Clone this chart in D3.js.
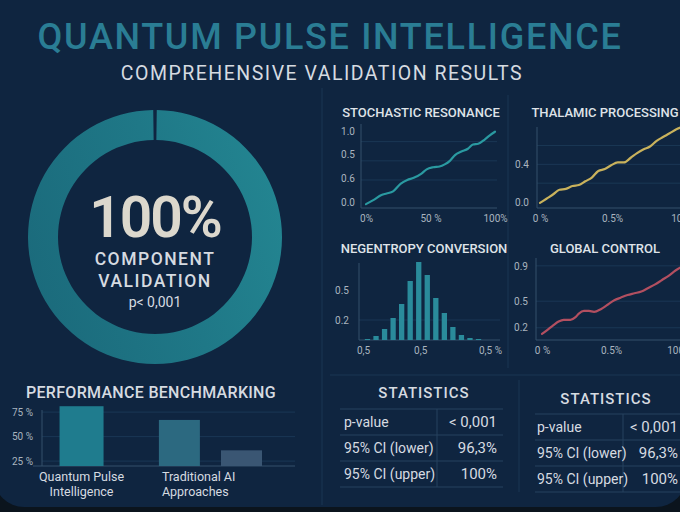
<!DOCTYPE html>
<html>
<head>
<meta charset="utf-8">
<script src="https://cdn.jsdelivr.net/npm/d3@7"></script>
<style>
  html, body { margin: 0; padding: 0; background: #0b141d; }
  svg { display: block; font-family: Roboto, "DejaVu Sans", sans-serif; }
</style>
</head>
<body>
<script>
// ---- data ----
var validationShare = [100];

var stochasticX = [0, 6, 12, 16, 21, 27, 32, 37, 43, 47, 52, 57, 61, 65, 69, 74, 79, 83, 87, 92, 96, 100];
var stochasticY = [-0.03, 0.03, 0.10, 0.12, 0.15, 0.26, 0.31, 0.34, 0.40, 0.46, 0.49, 0.50, 0.53, 0.58, 0.66, 0.71, 0.75, 0.81, 0.82, 0.88, 0.94, 0.99];
var stochasticYTicks = [0, 0.33, 0.67, 1];
var stochasticYLabels = ["0.0", "0.6", "0.5", "1.0"];
var stochasticXTicks = [0, 50, 100];
var stochasticXLabels = ["0%", "50 %", "100%"];

var thalamicX = [0, 0.045, 0.09, 0.135, 0.18, 0.225, 0.27, 0.315, 0.36, 0.405, 0.45, 0.494, 0.54, 0.584, 0.63, 0.674, 0.72, 0.764, 0.81, 0.854, 0.9, 0.944, 0.99];
var thalamicY = [-0.01, 0.035, 0.08, 0.13, 0.14, 0.17, 0.18, 0.22, 0.26, 0.33, 0.35, 0.39, 0.42, 0.42, 0.47, 0.52, 0.56, 0.59, 0.65, 0.69, 0.73, 0.77, 0.80];
var thalamicYTicks = [0, 0.4];
var thalamicYLabels = ["0.0", "0.4"];
var thalamicXTicks = [0, 0.5, 1];
var thalamicXLabels = ["0 %", "0.5%", "100 %"];

var negentropyBins = ["b1", "b2", "b3", "b4", "b5", "b6", "b7", "b8", "b9", "b10", "b11", "b12", "b13", "b14"];
var negentropyValues = [0.01, 0.04, 0.11, 0.22, 0.36, 0.59, 0.78, 0.65, 0.42, 0.27, 0.13, 0.05, 0.02, 0.01];
var negentropyYTicks = [0.2, 0.5];
var negentropyYLabels = ["0.2", "0.5"];
var negentropyXTicks = [0, 0.45, 1];
var negentropyXLabels = ["0,5", "0,5", "0,5 %"];

var globalX = [0, 0.035, 0.083, 0.12, 0.157, 0.206, 0.243, 0.267, 0.304, 0.34, 0.377, 0.426, 0.475, 0.524, 0.57, 0.62, 0.67, 0.72, 0.77, 0.82, 0.87, 0.92, 0.97, 1.015];
var globalY = [0.13, 0.17, 0.23, 0.27, 0.29, 0.29, 0.32, 0.36, 0.39, 0.39, 0.38, 0.41, 0.46, 0.51, 0.54, 0.57, 0.59, 0.61, 0.65, 0.69, 0.74, 0.79, 0.85, 0.89];
var globalYTicks = [0.2, 0.5, 0.9];
var globalYLabels = ["0.2", "0.5", "0.9"];
var globalXTicks = [0, 0.5, 1];
var globalXLabels = ["0 %", "0.5%", "100 %"];

var benchGroups = ["Quantum Pulse Intelligence", "Traditional AI Approaches"];
var qpiScores = [81];
var traditionalScores = [67, 36];
var benchTicks = [25, 50, 75];

var statLabels = ["p-value", "95% CI (lower)", "95% CI (upper)"];
var statValues = ["< 0,001", "96,3%", "100%"];

window.onload = function() {
    var w = 680, h = 512;
    var font = "Roboto, 'DejaVu Sans', sans-serif";
    var textCol = "#d6dbe1", tickCol = "#a9b4bf", axisCol = "#34506b", gridCol = "#1a3754";

    var svg = d3.select("body").append("svg")
        .attr("width", w)
        .attr("height", h);

    // card background with rounded bottom corners
    svg.append("rect").attr("width", w).attr("height", h).attr("fill", "#0b141d");
    svg.append("rect")
        .attr("x", -6).attr("y", -40)
        .attr("width", w + 12).attr("height", 547)
        .attr("rx", 30)
        .attr("fill", "#0f2540");

    // dividers
    var dividers = svg.append("g").attr("stroke", "#1b3652").attr("stroke-width", 1);
    dividers.append("line").attr("x1", 322).attr("x2", 322).attr("y1", 88).attr("y2", 505);
    dividers.append("line").attr("x1", 508).attr("x2", 508).attr("y1", 95).attr("y2", 368);
    dividers.append("line").attr("x1", 330).attr("x2", 680).attr("y1", 375).attr("y2", 375);
    dividers.append("line").attr("x1", 519).attr("x2", 519).attr("y1", 380).attr("y2", 492);

    // titles
    svg.append("text")
        .attr("x", 330).attr("y", 49)
        .attr("text-anchor", "middle")
        .attr("font-size", 36).attr("font-weight", 500)
        .attr("letter-spacing", 1.7)
        .attr("fill", "#2a7d94")
        .text("QUANTUM PULSE INTELLIGENCE");
    svg.append("text")
        .attr("x", 322).attr("y", 80)
        .attr("text-anchor", "middle")
        .attr("font-size", 19.5)
        .attr("letter-spacing", 1.5)
        .attr("fill", textCol)
        .text("COMPREHENSIVE VALIDATION RESULTS");

    // ---- donut ----
    var grad = svg.append("defs").append("linearGradient")
        .attr("id", "ringGrad")
        .attr("x1", 0).attr("y1", 0.6).attr("x2", 1).attr("y2", 0.3);
    grad.append("stop").attr("offset", "0%").attr("stop-color", "#1b6b7c");
    grad.append("stop").attr("offset", "55%").attr("stop-color", "#1f7887");
    grad.append("stop").attr("offset", "100%").attr("stop-color", "#238591");

    var pie = d3.pie().sort(null).startAngle(0.014).endAngle(2 * Math.PI - 0.014);
    var arc = d3.arc().innerRadius(97).outerRadius(127);
    var donut = svg.append("g").attr("transform", "translate(155,237)");
    donut.selectAll("path")
        .data(pie(validationShare))
        .enter()
        .append("path")
        .attr("d", arc)
        .attr("fill", "url(#ringGrad)");

    donut.append("text")
        .attr("y", 0).attr("text-anchor", "middle")
        .attr("font-size", 57).attr("font-weight", 600)
        .attr("letter-spacing", -2)
        .attr("fill", "#dcd8cd")
        .text(validationShare[0] + "%");
    donut.append("text")
        .attr("y", 28).attr("text-anchor", "middle")
        .attr("font-size", 17.5).attr("font-weight", 500)
        .attr("letter-spacing", 1.5)
        .attr("fill", textCol)
        .text("COMPONENT");
    donut.append("text")
        .attr("y", 50).attr("text-anchor", "middle")
        .attr("font-size", 17.5).attr("font-weight", 500)
        .attr("letter-spacing", 1.5)
        .attr("fill", textCol)
        .text("VALIDATION");
    donut.append("text")
        .attr("y", 70).attr("text-anchor", "middle")
        .attr("font-size", 14)
        .attr("fill", textCol)
        .text("p< 0,001");

    // ---- shared helper for the small panels ----
    function panel(cfg) {
        var g = svg.append("g");

        g.append("text")
            .attr("x", cfg.titleX).attr("y", cfg.titleY)
            .attr("text-anchor", "middle")
            .attr("font-size", 13).attr("font-weight", 500)
            .attr("fill", "#dfe3e8")
            .text(cfg.title);

        // grid lines
        g.selectAll(".grid")
            .data(cfg.grid)
            .enter()
            .append("line")
            .attr("x1", cfg.axisX).attr("x2", cfg.right)
            .attr("y1", function(d) { return cfg.y(d); })
            .attr("y2", function(d) { return cfg.y(d); })
            .attr("stroke", gridCol);

        var yAxis = d3.axisLeft(cfg.y)
            .tickValues(cfg.yTicks)
            .tickFormat(function(d, i) { return cfg.yLabels[i]; })
            .tickSize(0).tickPadding(cfg.yPad);
        var ya = g.append("g")
            .attr("transform", "translate(" + cfg.axisX + ",0)")
            .call(yAxis);
        ya.select(".domain").remove();

        var xAxis = d3.axisBottom(cfg.xl)
            .tickValues(cfg.xTicks)
            .tickFormat(function(d, i) { return cfg.xLabels[i]; })
            .tickSize(0).tickPadding(7);
        var xa = g.append("g")
            .attr("transform", "translate(0," + cfg.base + ")")
            .call(xAxis);
        xa.select(".domain").remove();

        g.selectAll(".tick text")
            .attr("fill", tickCol)
            .attr("font-family", font)
            .attr("font-size", 10);
        ya.attr("font-family", null).attr("font-size", null);
        xa.attr("font-family", null).attr("font-size", null);

        g.append("line")
            .attr("x1", cfg.axisX).attr("x2", cfg.axisX)
            .attr("y1", cfg.top).attr("y2", cfg.base)
            .attr("stroke", axisCol);
        g.append("line")
            .attr("x1", cfg.axisX).attr("x2", cfg.right)
            .attr("y1", cfg.base).attr("y2", cfg.base)
            .attr("stroke", axisCol);
        return g;
    }

    function drawLine(g, xs, ys, x, y, colour) {
        var pts = xs.map(function(d, i) { return [d, ys[i]]; });
        var line = d3.line()
            .x(function(d) { return x(d[0]); })
            .y(function(d) { return y(d[1]); })
            .curve(d3.curveMonotoneX);
        g.append("path")
            .datum(pts)
            .attr("d", line)
            .attr("fill", "none")
            .attr("stroke", colour)
            .attr("stroke-width", 2.2)
            .attr("stroke-linecap", "round");
    }

    // stochastic resonance
    var sx = d3.scaleLinear().domain([0, 100]).range([366, 495]);
    var sy = d3.scaleLinear().domain([0, 1]).range([202, 131]);
    var sg = panel({
        title: "STOCHASTIC RESONANCE", titleX: 421, titleY: 117,
        y: sy, xl: sx, yTicks: stochasticYTicks, yLabels: stochasticYLabels,
        xTicks: stochasticXTicks, xLabels: stochasticXLabels,
        grid: [0.31, 0.58, 0.85], axisX: 361, right: 497, top: 124, base: 208, yPad: 6
    });
    drawLine(sg, stochasticX, stochasticY, sx, sy, "#2a9aa1");

    // thalamic processing
    var tx = d3.scaleLinear().domain([0, 1]).range([540, 684]);
    var ty = d3.scaleLinear().domain([0, 0.8]).range([202, 126.7]);
    var tg = panel({
        title: "THALAMIC PROCESSING", titleX: 605, titleY: 117,
        y: ty, xl: tx, yTicks: thalamicYTicks, yLabels: thalamicYLabels,
        xTicks: thalamicXTicks, xLabels: thalamicXLabels,
        grid: [0.2, 0.4, 0.6], axisX: 537, right: 680, top: 127, base: 208, yPad: 8
    });
    drawLine(tg, thalamicX, thalamicY, tx, ty, "#c9b25c");

    // negentropy conversion (histogram)
    var nb = d3.scaleBand().domain(negentropyBins).range([361.6, 484.4]).padding(0.38);
    var nl = d3.scaleLinear().domain([0, 1]).range([363, 490]);
    var ny = d3.scaleLinear().domain([0, 0.8]).range([340, 260]);
    var ng = panel({
        title: "NEGENTROPY CONVERSION", titleX: 424, titleY: 253,
        y: ny, xl: nl, yTicks: negentropyYTicks, yLabels: negentropyYLabels,
        xTicks: negentropyXTicks, xLabels: negentropyXLabels,
        grid: [0.2], axisX: 359, right: 500, top: 263, base: 340, yPad: 10
    });
    ng.selectAll(".bar")
        .data(negentropyValues)
        .enter()
        .append("rect")
        .attr("x", function(d, i) { return nb(negentropyBins[i]); })
        .attr("width", nb.bandwidth())
        .attr("y", function(d) { return ny(d); })
        .attr("height", function(d) { return ny(0) - ny(d); })
        .attr("fill", "#2a8b9b");

    // global control
    var gx = d3.scaleLinear().domain([0, 1]).range([542, 680]);
    var gy = d3.scaleLinear().domain([0.05, 1]).range([341, 257]);
    var gg = panel({
        title: "GLOBAL CONTROL", titleX: 605, titleY: 253,
        y: gy, xl: gx, yTicks: globalYTicks, yLabels: globalYLabels,
        xTicks: globalXTicks, xLabels: globalXLabels,
        grid: [0.2, 0.5, 0.9], axisX: 536, right: 680, top: 258, base: 340, yPad: 8
    });
    drawLine(gg, globalX, globalY, gx, gy, "#b24f60");

    // ---- performance benchmarking ----
    var bg = svg.append("g");
    bg.append("text")
        .attr("x", 26).attr("y", 398)
        .attr("font-size", 16).attr("font-weight", 500)
        .attr("letter-spacing", 0.3)
        .attr("fill", textCol)
        .text("PERFORMANCE BENCHMARKING");

    var outer = d3.scaleBand().domain(benchGroups).range([30, 262]).paddingInner(0.2);
    var inner = d3.scaleBand().domain([0, 1]).range([0, outer.bandwidth()]).paddingInner(0.34);
    var by = d3.scaleLinear().domain([20, 85]).range([466, 402.3]);

    bg.selectAll(".bgrid")
        .data(benchTicks)
        .enter()
        .append("line")
        .attr("x1", 42).attr("x2", 295)
        .attr("y1", function(d) { return by(d); })
        .attr("y2", function(d) { return by(d); })
        .attr("stroke", gridCol);

    var benchAxis = bg.append("g")
        .attr("transform", "translate(42,0)")
        .call(d3.axisLeft(by).tickValues(benchTicks)
            .tickFormat(function(d) { return d + " %"; })
            .tickSize(0).tickPadding(9));
    benchAxis.select(".domain").remove();
    benchAxis.attr("font-family", null).attr("font-size", null);
    benchAxis.selectAll("text").attr("fill", tickCol).attr("font-family", font).attr("font-size", 10);

    bg.append("line").attr("x1", 42).attr("x2", 42).attr("y1", 410).attr("y2", 466).attr("stroke", axisCol);
    bg.append("line").attr("x1", 33).attr("x2", 295).attr("y1", 466).attr("y2", 466).attr("stroke", axisCol);

    var qpiColours = ["#1f7c8e"];
    var tradColours = ["#2c6980", "#3a5673"];
    // QPI: a single bar centred in its group
    bg.selectAll(".qpi")
        .data(qpiScores)
        .enter()
        .append("rect")
        .attr("x", outer(benchGroups[0]) + (outer.bandwidth() - inner.bandwidth()) / 2 - 1.5)
        .attr("width", inner.bandwidth() + 3)
        .attr("y", function(d) { return by(d); })
        .attr("height", function(d) { return by(20) - by(d); })
        .attr("fill", function(d, i) { return qpiColours[i]; });
    bg.selectAll(".trad")
        .data(traditionalScores)
        .enter()
        .append("rect")
        .attr("x", function(d, i) { return outer(benchGroups[1]) + inner(i); })
        .attr("width", inner.bandwidth())
        .attr("y", function(d) { return by(d); })
        .attr("height", function(d) { return by(20) - by(d); })
        .attr("fill", function(d, i) { return tradColours[i]; });

    // group labels, two lines each
    var splitLabels = [["Quantum Pulse", "Intelligence"], ["Traditional AI", "Approaches"]];
    benchGroups.forEach(function(gname, gi) {
        var t = bg.append("text")
            .attr("font-size", 12.5)
            .attr("fill", textCol)
            .attr("text-anchor", gi === 0 ? "middle" : "start");
        var lx = gi === 0 ? outer(gname) + outer.bandwidth() / 2 : outer(gname) + 3;
        splitLabels[gi].forEach(function(line, li) {
            t.append("tspan").attr("x", lx).attr("y", 481 + li * 14.5).text(line);
        });
    });

    // ---- statistics tables ----
    function statsTable(cfg) {
        var g = svg.append("g");
        g.append("text")
            .attr("x", cfg.cx).attr("y", cfg.titleY)
            .attr("text-anchor", "middle")
            .attr("font-size", 15).attr("font-weight", 500)
            .attr("letter-spacing", 1)
            .attr("fill", textCol)
            .text("STATISTICS");
        var rows = d3.range(statLabels.length + 1);
        g.selectAll(".hl")
            .data(rows)
            .enter()
            .append("line")
            .attr("x1", cfg.left).attr("x2", cfg.right)
            .attr("y1", function(d) { return cfg.top + d * cfg.rowH; })
            .attr("y2", function(d) { return cfg.top + d * cfg.rowH; })
            .attr("stroke", "#26425e");
        g.append("line")
            .attr("x1", cfg.divX).attr("x2", cfg.divX)
            .attr("y1", cfg.top).attr("y2", cfg.top + statLabels.length * cfg.rowH)
            .attr("stroke", "#26425e");
        g.selectAll(".lab")
            .data(statLabels)
            .enter()
            .append("text")
            .attr("x", cfg.labelX)
            .attr("y", function(d, i) { return cfg.top + i * cfg.rowH + 18; })
            .attr("font-size", 14)
            .attr("fill", textCol)
            .text(function(d) { return d; });
        g.selectAll(".val")
            .data(statValues)
            .enter()
            .append("text")
            .attr("x", cfg.valueX)
            .attr("y", function(d, i) { return cfg.top + i * cfg.rowH + 18; })
            .attr("text-anchor", "end")
            .attr("font-size", 15)
            .attr("fill", textCol)
            .text(function(d) { return d; });
    }
    statsTable({ cx: 424, titleY: 398, top: 409, rowH: 26, left: 340, right: 503, divX: 437, labelX: 344, valueX: 497 });
    statsTable({ cx: 606, titleY: 404, top: 414, rowH: 26, left: 535, right: 690, divX: 623, labelX: 537, valueX: 678 });
};
</script>
</body>
</html>
